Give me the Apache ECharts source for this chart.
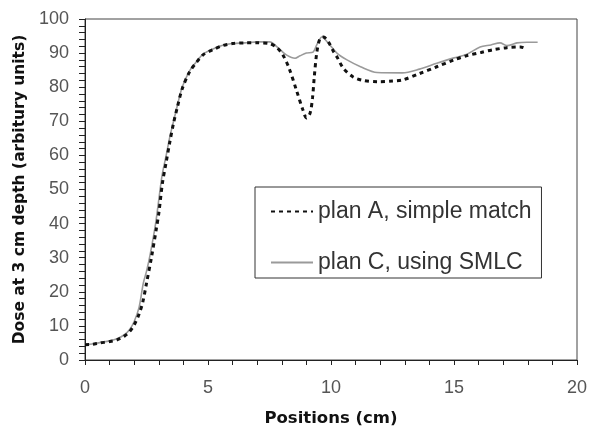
<!DOCTYPE html>
<html>
<head>
<meta charset="utf-8">
<script src="https://cdn.jsdelivr.net/npm/echarts@6/dist/echarts.min.js"></script>
<style>
  html, body { margin: 0; padding: 0; background: #fff; }
  #chart { width: 589px; height: 427px; }
</style>
</head>
<body>
<div id="chart"></div>
<script>
// plan A, simple match (black dotted)
var posA = [0, 0.3, 0.6, 1.0, 1.3, 1.6, 1.8, 2.0, 2.2, 2.35, 2.5, 2.7, 2.9, 3.0, 3.15, 3.3, 3.45, 3.6, 3.75, 3.95,
            4.25, 4.5, 4.8, 5.2, 5.6, 6.0, 6.5, 7.0, 7.5, 7.8, 8.05, 8.3, 8.6, 8.85, 9.0, 9.15, 9.25, 9.32, 9.42, 9.55,
            9.7, 9.9, 10.1, 10.25, 10.5, 10.9, 11.3, 11.9, 12.5, 12.9, 13.6, 14.3, 15.0, 15.5, 16.1, 16.6, 17.15, 17.7, 17.95];
var doseA = [4.5, 4.6, 5.0, 5.4, 5.9, 7.0, 8.2, 10.3, 13.5, 17, 22.5, 30, 38.5, 43, 52, 58, 64, 69.5, 74, 79.5,
             84.5, 87, 89.5, 91, 92.2, 92.8, 93, 93, 92.8, 91.6, 89.4, 85.5, 79, 73.5, 71, 72.4, 77, 83, 90, 94.2,
             94.7, 93.2, 90.5, 88.8, 85.6, 83, 82, 81.6, 81.8, 82.1, 84, 86, 88, 89.2, 90.2, 91, 91.6, 91.8, 91.2];

// plan C, using SMLC (grey solid)
var posC = [0, 0.3, 0.6, 1.0, 1.3, 1.6, 1.8, 2.0, 2.2, 2.37, 2.5, 2.65, 2.87, 3.13, 3.3, 3.45, 3.6, 3.75, 3.95,
            4.25, 4.5, 4.8, 5.2, 5.6, 6.0, 6.5, 7.0, 7.5, 7.93, 8.2, 8.54, 8.74, 9.0, 9.27, 9.42, 9.63, 9.88, 10.24,
            10.65, 11.2, 11.87, 12.9, 13.6, 14.3, 15.0, 15.5, 16.06, 16.5, 16.87, 17.15, 17.56, 17.97, 18.4];
var doseC = [4.5, 4.7, 5.1, 5.6, 6.2, 7.4, 8.8, 11.3, 15.5, 22.5, 26, 31, 40, 54, 60, 65.5, 70, 74.5, 80,
             84.8, 87.2, 89.7, 91.2, 92.3, 92.8, 93, 93.3, 93.3, 91, 89.4, 88.5, 89.2, 90, 90.3, 92.4, 94.7, 93, 90,
             88, 86, 84.3, 84.2, 85.3, 87, 88.6, 89.6, 91.8, 92.4, 93, 92.2, 93, 93.2, 93.2];

var seriesNames = ['plan A, simple match', 'plan C, using SMLC'];
var xTitle = 'Positions (cm)';
var yTitle = 'Dose at 3 cm depth (arbitury units)';

function zip(xs, ys) {
    return xs.map(function (x, i) { return [x, ys[i]]; });
}

var font = "'Liberation Sans', Arial, sans-serif";
var titleFont = "'DejaVu Sans', Verdana, sans-serif";
var myChart = echarts.init(document.getElementById('chart'));

var option = {
    animation: false,
    backgroundColor: '#fff',
    grid: {
        left: 85, right: 12, top: 19, bottom: 67,
        outerBoundsMode: 'none',
        show: true, borderColor: '#444', borderWidth: 1
    },
    legend: {
        orient: 'vertical',
        left: 255, top: 187,
        padding: [13, 10, 4, 15],
        itemGap: 28,
        itemWidth: 42, itemHeight: 14,
        borderColor: '#333', borderWidth: 1,
        itemStyle: { opacity: 0 },
        textStyle: { fontFamily: font, fontSize: 23, color: '#333' },
        data: seriesNames
    },
    xAxis: {
        type: 'value',
        min: 0, max: 20, interval: 5,
        name: xTitle,
        nameLocation: 'middle',
        nameGap: 50,
        nameTextStyle: { fontFamily: titleFont, fontSize: 16.5, fontWeight: 'bold', color: '#111' },
        axisLine: { lineStyle: { color: '#222', width: 1 } },
        axisTick: { show: true, length: 5, lineStyle: { color: '#222' } },
        minorTick: { show: true, splitNumber: 5, length: 5, lineStyle: { color: '#222' } },
        axisLabel: { fontFamily: font, fontSize: 18, color: '#555', margin: 19 },
        splitLine: { show: false }
    },
    yAxis: {
        type: 'value',
        min: 0, max: 100, interval: 10,
        name: yTitle,
        nameLocation: 'middle',
        nameGap: 53,
        nameTextStyle: { fontFamily: titleFont, fontSize: 15.5, fontWeight: 'bold', color: '#111' },
        axisLine: { show: true, lineStyle: { color: '#222', width: 1 } },
        axisTick: { show: true, length: 6, lineStyle: { color: '#222' } },
        minorTick: { show: true, splitNumber: 5, length: 6, lineStyle: { color: '#222' } },
        axisLabel: { fontFamily: font, fontSize: 18, color: '#555', margin: 16 },
        splitLine: { show: false }
    },
    series: [{
        name: seriesNames[0],
        type: 'line',
        data: zip(posA, doseA),
        showSymbol: false,
        symbol: 'none',
        smooth: 0.3,
        z: 3,
        itemStyle: { color: '#111' },
        lineStyle: { color: '#111', width: 3, type: [4, 4] }
    }, {
        name: seriesNames[1],
        type: 'line',
        data: zip(posC, doseC),
        showSymbol: false,
        symbol: 'none',
        smooth: 0.3,
        z: 2,
        itemStyle: { color: '#9a9a9a' },
        lineStyle: { color: '#9a9a9a', width: 1.6 }
    }]
};

myChart.setOption(option);
</script>
</body>
</html>
